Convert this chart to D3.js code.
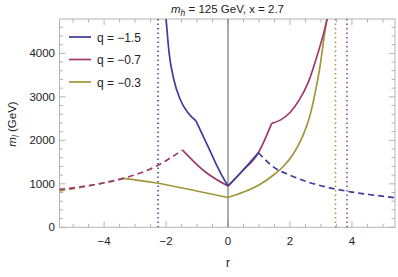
<!DOCTYPE html>
<html>
<head>
<meta charset="utf-8">
<script src="https://cdn.jsdelivr.net/npm/d3@7"></script>
<style>
  body { margin: 0; background: #fff; }
  text { font-family: "Liberation Sans", Arial, sans-serif; }
</style>
</head>
<body>
<div id="chart"></div>
<script>
// data: [r, m_l]
var blueLeft = [[-2.0,4800],[-1.9,4000],[-1.75,3400],[-1.55,2950],[-1.3,2640],[-1.03,2444]];
var blueMid = [[-1.03,2444],[-0.8,2090],[-0.58,1760],[-0.36,1420],[-0.15,1130],[0,950]];
var blueRight = [[0,950],[0.44,1278],[0.98,1715]];
var blueDash = [[0.98,1715],[1.52,1360],[2.0,1200],[2.59,1040],[3.4,890],[4.0,810],[4.7,740],[5.4,680]];

var purpleDash = [[-5.45,870],[-4.5,960],[-3.38,1126],[-2.35,1393],[-1.47,1777]];
var purpleMid = [[-1.47,1777],[-0.74,1278],[0,950]];
var purpleRight1 = [[0,950],[0.44,1278],[0.98,1715],[1.41,2390]];
var purpleRight2 = [[1.41,2390],[1.7,2470],[2.0,2640],[2.3,2930],[2.6,3350],[2.9,4000],[3.1,4500],[3.22,4850]];

var goldDash = [[-5.45,834],[-4.5,950],[-3.38,1126]];
var goldMid = [[-3.38,1126],[-2.35,1025],[-0.9,818],[0,685]];
var goldRight = [[0,685],[0.5,810],[1.0,975],[1.5,1220],[1.8,1410],[2.1,1680],[2.4,2080],[2.65,2580],[2.8,3050],[2.97,3700],[3.11,4420],[3.22,4900]];

var poles = [[-2.26,"#3d3d9e"],[3.47,"#a0963a"],[3.84,"#9e3a6e"]];
var legendLabels = ["q = \u22121.5","q = \u22120.7","q = \u22120.3"];
var colors = ["#3d3d9e","#9e3a6e","#a0963a"];

var width = 398, height = 277;
var x = d3.scaleLinear().domain([-5.44, 5.39]).range([59.5, 395]);
var y = d3.scaleLinear().domain([0, 4790]).range([227.3, 19]);

var svg = d3.select("#chart").append("svg")
    .attr("width", width).attr("height", height);

svg.append("defs").append("clipPath").attr("id", "clip")
  .append("rect").attr("x", 59.5).attr("y", 19).attr("width", 335.5).attr("height", 208.3);

// frame + ticks
var frame = "#b4b4b4";
svg.append("rect").attr("x", 59.5).attr("y", 19).attr("width", 335.5).attr("height", 208.3)
  .attr("fill", "none").attr("stroke", frame).attr("stroke-width", 1);

var xMajor = [-4,-2,0,2,4];
var xMinor = d3.range(-5, 5.01, 0.5).filter(function(v){ return xMajor.indexOf(v) < 0; });
var yMajor = [0,1000,2000,3000,4000];
var yMinor = d3.range(200, 4800, 200).filter(function(v){ return v % 1000 !== 0; });

var tk = svg.append("g").attr("stroke", frame).attr("stroke-width", 1);
xMajor.forEach(function(v){
  tk.append("line").attr("x1", x(v)).attr("x2", x(v)).attr("y1", 227.3).attr("y2", 227.3-6);
  tk.append("line").attr("x1", x(v)).attr("x2", x(v)).attr("y1", 19).attr("y2", 19+6);
});
xMinor.forEach(function(v){
  tk.append("line").attr("x1", x(v)).attr("x2", x(v)).attr("y1", 227.3).attr("y2", 227.3-3.5);
  tk.append("line").attr("x1", x(v)).attr("x2", x(v)).attr("y1", 19).attr("y2", 19+3.5);
});
yMajor.forEach(function(v){
  tk.append("line").attr("x1", 59.5).attr("x2", 59.5+6).attr("y1", y(v)).attr("y2", y(v));
  tk.append("line").attr("x1", 395).attr("x2", 395-6).attr("y1", y(v)).attr("y2", y(v));
});
yMinor.forEach(function(v){
  tk.append("line").attr("x1", 59.5).attr("x2", 59.5+3.5).attr("y1", y(v)).attr("y2", y(v));
  tk.append("line").attr("x1", 395).attr("x2", 395-3.5).attr("y1", y(v)).attr("y2", y(v));
});

svg.append("g").selectAll("text").data(xMajor).enter().append("text")
  .attr("x", function(d){ return x(d); }).attr("y", 245)
  .attr("text-anchor", "middle").attr("font-size", 11.5).attr("fill", "#222")
  .text(function(d){ return d < 0 ? "\u2212" + Math.abs(d) : d; });

svg.append("g").selectAll("text").data(yMajor).enter().append("text")
  .attr("x", 55).attr("y", function(d){ return y(d) + 4; })
  .attr("text-anchor", "end").attr("font-size", 11.5).attr("fill", "#222")
  .text(function(d){ return d; });

// zero line
svg.append("line").attr("x1", x(0)).attr("x2", x(0)).attr("y1", 19).attr("y2", 227.3)
  .attr("stroke", "#808080").attr("stroke-width", 1.3);

// dotted poles
svg.append("g").selectAll("line").data(poles).enter().append("line")
  .attr("x1", function(d){ return x(d[0]); }).attr("x2", function(d){ return x(d[0]); })
  .attr("y1", 19).attr("y2", 227.3)
  .attr("stroke", function(d){ return d[1]; }).attr("stroke-width", 1.5)
  .attr("stroke-dasharray", "1.5,3");

var line = d3.line()
  .x(function(d){ return x(d[0]); })
  .y(function(d){ return y(d[1]); })
  .curve(d3.curveMonotoneX);

var curves = [
  [goldDash, colors[2], true], [goldMid, colors[2], false], [goldRight, colors[2], false],
  [purpleDash, colors[1], true], [purpleMid, colors[1], false], [purpleRight1, colors[1], false], [purpleRight2, colors[1], false],
  [blueLeft, colors[0], false], [blueMid, colors[0], false], [blueRight, colors[0], false], [blueDash, colors[0], true]
];

var plot = svg.append("g").attr("clip-path", "url(#clip)");
curves.forEach(function(c){
  plot.append("path").attr("d", line(c[0]))
    .attr("fill", "none").attr("stroke", c[1]).attr("stroke-width", 1.7)
    .attr("stroke-dasharray", c[2] ? "6,4" : null);
});

// legend
var lg = svg.append("g");
legendLabels.forEach(function(t, i){
  var yy = 37 + i * 22.5;
  lg.append("line").attr("x1", 69).attr("x2", 91).attr("y1", yy).attr("y2", yy)
    .attr("stroke", colors[i]).attr("stroke-width", 1.7);
  lg.append("text").attr("x", 97).attr("y", yy + 4.5).attr("font-size", 12).attr("fill", "#222").text(t);
});

// title
var title = svg.append("text").attr("x", 227.5).attr("y", 13).attr("text-anchor", "middle")
  .attr("font-size", 11.5).attr("fill", "#222");
title.append("tspan").attr("font-style", "italic").text("m");
title.append("tspan").attr("font-style", "italic").attr("font-size", 8.5).attr("dy", 2.5).text("h");
title.append("tspan").attr("dy", -2.5).text(" = 125 GeV, x = 2.7");

// axis labels
svg.append("text").attr("x", x(0)).attr("y", 267).attr("text-anchor", "middle")
  .attr("font-size", 12).attr("fill", "#222").text("r");

var yl = svg.append("text").attr("transform", "translate(16,124) rotate(-90)")
  .attr("text-anchor", "middle").attr("font-size", 11.5).attr("fill", "#222");
yl.append("tspan").attr("font-style", "italic").text("m");
yl.append("tspan").attr("font-style", "italic").attr("font-size", 8.5).attr("dy", 2.5).text("l");
yl.append("tspan").attr("dy", -2.5).text(" (GeV)");
</script>
</body>
</html>
